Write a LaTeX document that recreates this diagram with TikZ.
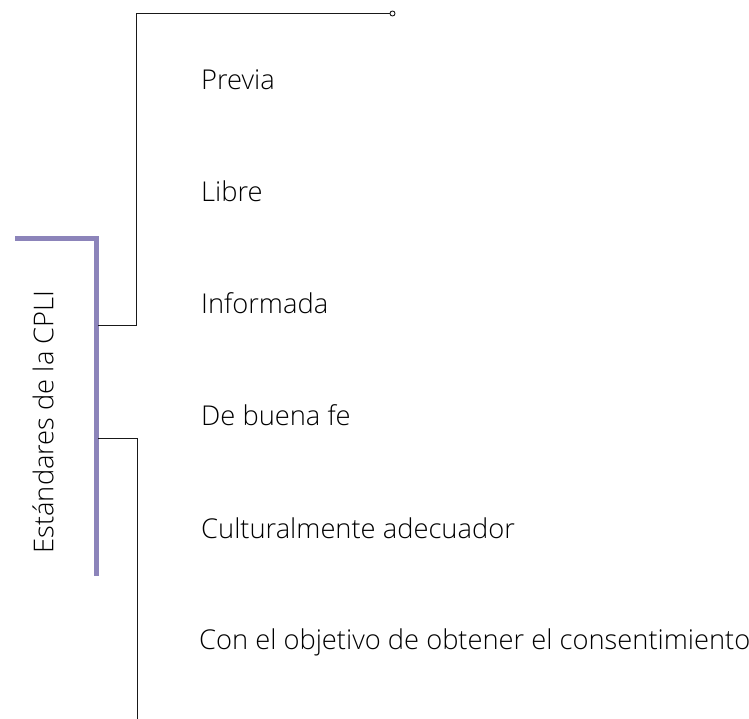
\documentclass[tikz,border=0pt]{standalone}
\usepackage{fontspec}
\setmainfont{Open Sans}[UprightFont=* Light]
\definecolor{bracketpurple}{RGB}{140,132,186}
\definecolor{linegray}{RGB}{25,25,25}
\begin{document}
\begin{tikzpicture}[x=1pt,y=-1pt,
  label/.style={anchor=base west,inner sep=0pt,font=\fontsize{27.3}{32}\selectfont,text=black},
  bracket/.style={draw=bracketpurple,line width=5pt},
  conn/.style={draw=linegray,line width=1pt}]
\useasboundingbox (0,0) rectangle (749,718);
\clip (0,0) rectangle (749,718);
% purple bracket
\coordinate (bl) at (15,238);
\coordinate (bc) at (96,238);
\coordinate (bb) at (96,576);
\draw[bracket] (bl) -- (bc) -- (bb);
% title
\node[label,anchor=center,rotate=90] (title) at (43,422) {Estándares de la CPLI};
% upper connector
\coordinate (u0) at (98,325);
\coordinate (u1) at (136.5,325);
\coordinate (u2) at (136.5,13);
\coordinate (u3) at (390,13);
\draw[conn] (u0) -- (u1) -- (u2) -- (u3);
\node[draw=linegray,line width=0.9pt,circle,minimum size=5pt,inner sep=0pt,fill=white] (dot) at (392.5,13.5) {};
% lower connector
\coordinate (l0) at (98,438.5);
\coordinate (l1) at (137.5,438.5);
\coordinate (l2) at (137.5,720);
\draw[conn] (l0) -- (l1) -- (l2);
% items
\node[label] (t1) at (201,89.5) {Previa};
\node[label] (t2) at (201,201) {Libre};
\node[label] (t3) at (201,313.5) {Informada};
\node[label] (t4) at (201,425.5) {De buena fe};
\node[label] (t5) at (201,538) {Culturalmente adecuador};
\node[label] (t6) at (199,649) {Con el objetivo de obtener el consentimiento};
\end{tikzpicture}
\end{document}
